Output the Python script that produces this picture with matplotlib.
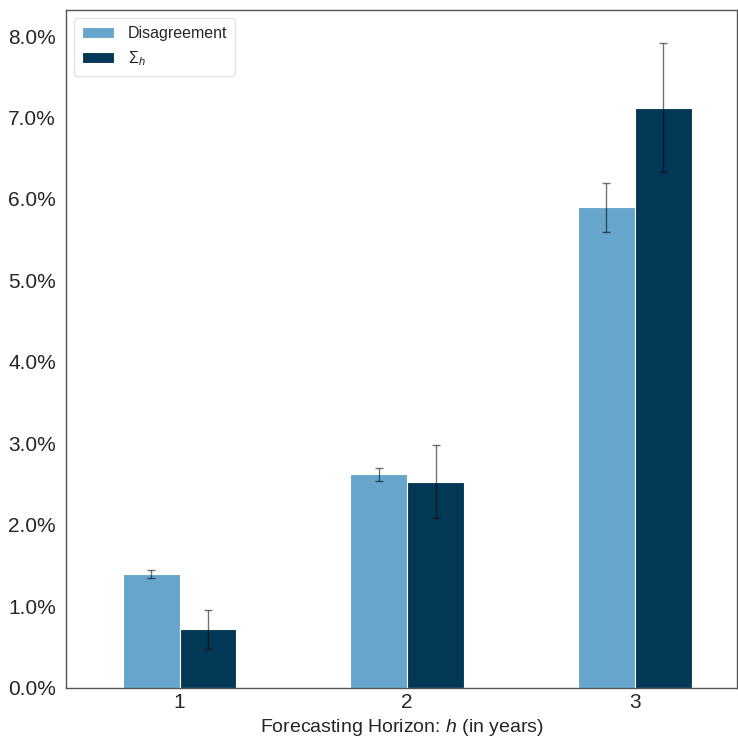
import matplotlib
matplotlib.use("Agg")
import matplotlib.pyplot as plt
import numpy as np
from matplotlib.ticker import FuncFormatter

horizons = ["1", "2", "3"]
disagreement = [1.40, 2.62, 5.90]
disagreement_err = [0.05, 0.08, 0.30]
sigma = [0.72, 2.53, 7.12]
sigma_err = [0.24, 0.45, 0.79]

plt.rcParams["font.family"] = ["Liberation Sans", "DejaVu Sans"]
plt.rcParams["mathtext.fontset"] = "custom"
plt.rcParams["mathtext.rm"] = "Liberation Sans"
plt.rcParams["mathtext.it"] = "Liberation Sans:italic"

text_color = "#262626"

fig = plt.figure(figsize=(7.38, 7.38), dpi=100)
ax = fig.add_axes([0.089, 0.068, 0.910, 0.9185])

x = np.arange(len(horizons))
width = 0.25

ax.bar(x - width / 2, disagreement, width, color="#66a5cc", edgecolor="white",
       linewidth=0.8, label="Disagreement")
ax.bar(x + width / 2, sigma, width, color="#033957", edgecolor="white",
       linewidth=0.8, label=r"$\Sigma_h$")

# error bars, semi transparent
for pos, vals, errs in [(x - width / 2, disagreement, disagreement_err),
                        (x + width / 2, sigma, sigma_err)]:
    eb = ax.errorbar(pos, vals, yerr=errs, fmt="none", ecolor="black",
                     elinewidth=1, capsize=3, capthick=1)
    for part in eb.lines[1] + eb.lines[2]:
        part.set_alpha(0.55)

ax.set_xlim(-0.5, 2.45)
ax.set_ylim(0, 8.32)
ax.set_xticks(x)
ax.set_xticklabels(horizons)
ax.yaxis.set_major_formatter(FuncFormatter(lambda v, pos: f"{v:.1f}%"))
ax.tick_params(axis="both", labelsize=15, colors=text_color, length=0)
ax.tick_params(axis="y", pad=7)
ax.set_xlabel("Forecasting Horizon: $h$ (in years)", fontsize=14, color=text_color)

for spine in ax.spines.values():
    spine.set_color("#555555")
    spine.set_linewidth(1)

leg = ax.legend(loc="upper left", fontsize=11.5, frameon=True, fancybox=True,
                borderpad=0.5, handlelength=2.0, handletextpad=0.9)
leg.get_frame().set_edgecolor("#dddddd")
for t in leg.get_texts():
    t.set_color(text_color)

fig.savefig("out.png", dpi=100)
